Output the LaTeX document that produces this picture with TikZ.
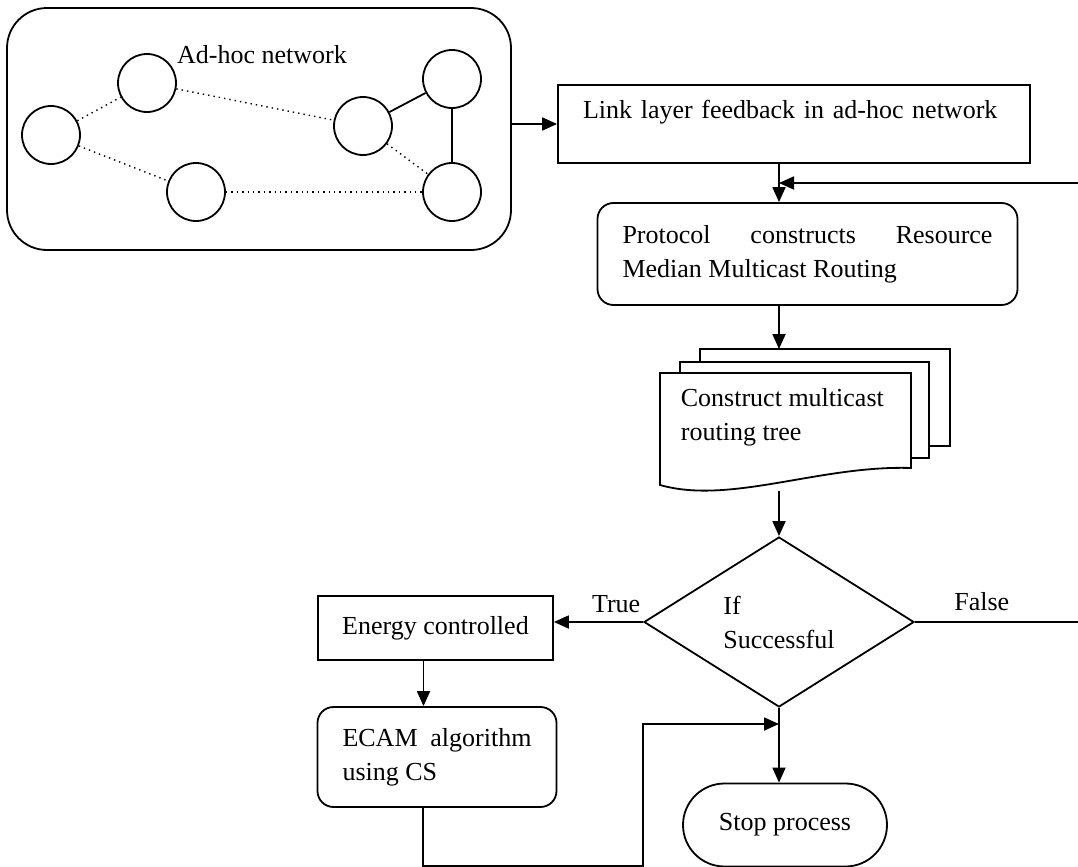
\documentclass[tikz,border=0pt]{standalone}
\usepackage{fontspec}
\setmainfont{Liberation Serif}
\usetikzlibrary{arrows.meta,shapes.geometric,shapes.misc}

\tikzset{
  arrow/.style={-{Triangle[length=7.5pt,width=6.5pt]}},
  box/.style={draw, inner sep=0pt},
  rbox/.style={box, rounded corners=8pt},
  peer/.style={draw, circle, minimum size=29pt, inner sep=0pt},
  weak/.style={dotted, line width=0.7pt},
}

\begin{document}
\begin{tikzpicture}[x=0.5pt,y=-0.5pt,line width=0.9pt,font=\fontsize{13}{17}\selectfont]
\useasboundingbox (0,0) rectangle (1078,867);

% ad-hoc network
\node[box, rounded corners=20pt, minimum width=252pt, minimum height=121pt] (net) at (259,129) {};
\node[anchor=base] (nettitle) at (262,63) {Ad-hoc network};
\node[peer] (p1) at (147,83) {};
\node[peer] (p2) at (51,135) {};
\node[peer] (p3) at (196,192) {};
\node[peer] (p4) at (363,126) {};
\node[peer] (p5) at (452,79) {};
\node[peer] (p6) at (452,192) {};
\draw[weak] (p2) -- (p1);
\draw[weak] (p1) -- (p4);
\draw[weak] (p2) -- (p3);
\draw[weak] (p3) -- (p6);
\draw[weak] (p4) -- (p6);
\draw (p4) -- (p5);
\draw (p5) -- (p6);

% flow
\node[box, text width=211pt, inner xsep=12.5pt, align=left, minimum height=39pt, text height=9pt, text depth=14pt] (link) at (794,124) {Link layer feedback in ad-hoc network};
\node[rbox, text width=185pt, inner xsep=12.5pt, align=justify, minimum height=51pt] (proto) at (807.5,254) {Protocol constructs Resource\linebreak Median Multicast Routing};

% multi-document
\draw[fill=white] (700,349) rectangle (950,446);
\draw[fill=white] (680,362) rectangle (929,458);
\draw[fill=white] (660,373) -- (911,373) -- (911,468) .. controls (820,465) and (730,505) .. (660,485) -- cycle;
\node[anchor=west, align=left, inner sep=0pt] (doc) at (680,417) {Construct multicast\\routing tree};
\coordinate (stacktop) at (779,349);
\coordinate (stackfoot) at (779,491);

\node[draw, diamond, aspect=1.59, minimum width=135pt, minimum height=85pt, inner sep=0pt, align=left] (cond) at (779,622) {If\\Successful};
\node[box, minimum width=117.5pt, minimum height=32pt] (energy) at (435.5,628) {Energy controlled};
\node[rbox, text width=94.5pt, inner xsep=12.5pt, align=justify, minimum height=50pt] (ecam) at (437,757) {ECAM algorithm\linebreak using CS};
\node[draw, rounded rectangle, minimum width=102pt, minimum height=41.5pt, inner sep=0pt] (stop) at (785,825) {Stop process};

\coordinate (back) at (1078,183);
\coordinate (falseout) at (1078,622);
\coordinate (loopfoot) at (643,866);
\coordinate (loophead) at (643,724);

\draw[arrow] (net.east |- link.west) -- (link.west);
\draw[arrow] (link.south -| cond) -- (proto.north -| cond);
\draw[arrow] (back) -- (back -| cond);
\draw[arrow] (proto.south -| cond) -- (stacktop -| cond);
\draw[arrow] (stackfoot -| cond) -- (cond.north);
\draw[arrow] (cond.west) -- node[pos=0, above left, inner sep=0pt, yshift=4pt, xshift=-1pt] {True} (cond.west -| energy.east);
\draw (cond.east) -- node[pos=0.41, above, inner sep=0pt, yshift=5pt] {False} (falseout);
\draw[arrow] ([xshift=-6pt]energy.south) -- ([xshift=-6pt]energy.south |- ecam.north);
\draw[arrow] (cond.south) -- (stop.north -| cond);
\draw[arrow] ([xshift=-7pt]ecam.south) |- (loopfoot) -- (loophead) -- (loophead -| cond);
\end{tikzpicture}
\end{document}
